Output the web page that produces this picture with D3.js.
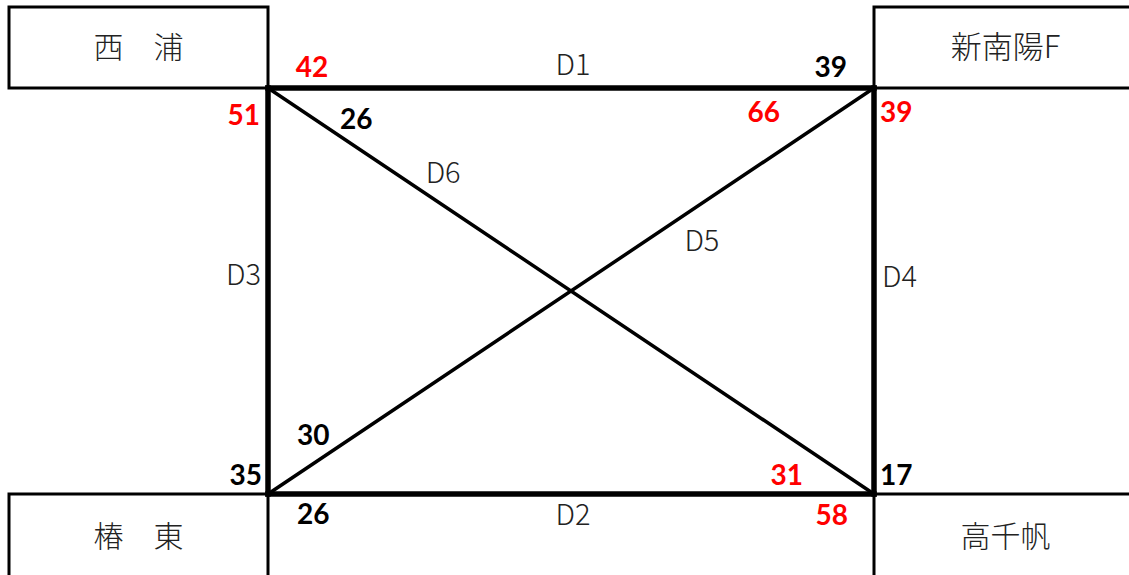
<!DOCTYPE html>
<html>
<head>
<meta charset="utf-8">
<script src="https://cdn.jsdelivr.net/npm/d3@7"></script>
<style>
  html, body { margin: 0; padding: 0; background: #fff; }
  svg { display: block; }
</style>
</head>
<body>
<svg id="chart" width="1129" height="575"></svg>
<script>
// ---- data ----
const stationNames = ["西　浦", "新南陽F", "椿　東", "高千帆"];   // TL, TR, BL, BR
const stationCol = [0, 1, 0, 1];
const stationRow = [0, 0, 1, 1];

const edgeNames = ["D1", "D2", "D3", "D4", "D5", "D6"];
const edgeFrom  = [0, 2, 0, 1, 2, 0];
const edgeTo    = [1, 3, 2, 3, 1, 3];
const countAtFrom = [42, 26, 51, 39, 30, 26];
const countAtTo   = [39, 58, 35, 17, 66, 31];
const highlightFrom = [true, false, true, true, false, false];
const highlightTo   = [false, true, false, false, true, true];

// ---- layout ----
const svg = d3.select("#chart");
const x = d3.scaleLinear().domain([0, 1]).range([268, 874]);
const y = d3.scaleLinear().domain([0, 1]).range([88, 494]);
const boxW = 259, boxH = 81;

const cjk = "'Noto Sans CJK JP', 'Noto Sans CJK SC', sans-serif";
const numFont = "Lato, 'Liberation Sans', sans-serif";

// station boxes
const boxes = stationNames.map((n, i) => ({
  name: n,
  x0: stationCol[i] === 0 ? x(0) - boxW : x(1),
  y0: stationRow[i] === 0 ? y(0) - boxH : y(1),
}));
svg.selectAll("rect.station").data(boxes).join("rect")
  .attr("class", "station")
  .attr("x", d => d.x0).attr("y", d => d.y0)
  .attr("width", boxW).attr("height", d => d.y0 < y(0.5) ? boxH : boxH + 2)
  .attr("fill", "none").attr("stroke", "#000").attr("stroke-width", 3);
svg.selectAll("text.station").data(boxes).join("text")
  .attr("class", "station")
  .attr("x", (d, i) => d.x0 + boxW / 2 + (i % 2 === 1 ? 2 : 0))
  .attr("y", (d, i) => stationRow[i] === 0 ? 58 : 547)
  .attr("text-anchor", "middle")
  .attr("font-family", cjk).attr("font-weight", 300)
  .attr("font-size", (d, i) => i === 1 ? 31 : 30).attr("fill", "#222")
  .text(d => d.name);

// edges
const edges = edgeNames.map((n, i) => ({
  name: n, i,
  x1: x(stationCol[edgeFrom[i]]), y1: y(stationRow[edgeFrom[i]]),
  x2: x(stationCol[edgeTo[i]]),   y2: y(stationRow[edgeTo[i]]),
  diag: stationCol[edgeFrom[i]] !== stationCol[edgeTo[i]] && stationRow[edgeFrom[i]] !== stationRow[edgeTo[i]]
}));
svg.selectAll("line.edge").data(edges).join("line")
  .attr("class", "edge")
  .attr("x1", d => d.x1).attr("y1", d => d.y1)
  .attr("x2", d => d.x2).attr("y2", d => d.y2)
  .attr("stroke", "#000")
  .attr("stroke-width", d => d.diag ? 3.5 : 5.5)
  .attr("stroke-linecap", "square");

// edge labels: fraction along edge + offset
const edgeLabelPos = {
  D1: { t: 0.5,  dx: 2,   dy: -13, anchor: "middle" },
  D2: { t: 0.5,  dx: 2,   dy: 31,  anchor: "middle" },
  D3: { t: 0.5,  dx: -7,  dy: -6,  anchor: "end" },
  D4: { t: 0.5,  dx: 8,   dy: -4,  anchor: "start" },
  D5: { t: 0.716, dx: 0,  dy: 48,  anchor: "middle" },
  D6: { t: 0.289, dx: 0,  dy: -22, anchor: "middle" }
};
svg.selectAll("text.edge").data(edges).join("text")
  .attr("class", "edge")
  .attr("x", d => d.x1 + (d.x2 - d.x1) * edgeLabelPos[d.name].t + edgeLabelPos[d.name].dx)
  .attr("y", d => d.y1 + (d.y2 - d.y1) * edgeLabelPos[d.name].t + edgeLabelPos[d.name].dy)
  .attr("text-anchor", d => edgeLabelPos[d.name].anchor)
  .attr("font-family", cjk).attr("font-weight", 300)
  .attr("font-size", 29).attr("fill", "#222")
  .text(d => d.name);

// counts at edge ends
const countPos = {
  "D1-from": { dx: 44,  dy: -11, anchor: "middle" },
  "D1-to":   { dx: -27, dy: -11, anchor: "end" },
  "D2-from": { dx: 29,  dy: 30,  anchor: "start" },
  "D2-to":   { dx: -26, dy: 31,  anchor: "end" },
  "D3-from": { dx: -8,  dy: 37,  anchor: "end" },
  "D3-to":   { dx: -6,  dy: -9,  anchor: "end" },
  "D4-from": { dx: 6,   dy: 34,  anchor: "start" },
  "D4-to":   { dx: 6,   dy: -9,  anchor: "start" },
  "D5-from": { dx: 29,  dy: -49, anchor: "start" },
  "D5-to":   { dx: -94, dy: 34,  anchor: "end" },
  "D6-from": { dx: 72,  dy: 41,  anchor: "start" },
  "D6-to":   { dx: -71, dy: -9,  anchor: "end" }
};
const counts = [];
edges.forEach(e => {
  counts.push({ key: e.name + "-from", x: e.x1, y: e.y1, v: countAtFrom[e.i], hl: highlightFrom[e.i] });
  counts.push({ key: e.name + "-to",   x: e.x2, y: e.y2, v: countAtTo[e.i],   hl: highlightTo[e.i] });
});
svg.selectAll("text.count").data(counts).join("text")
  .attr("class", "count")
  .attr("x", d => d.x + countPos[d.key].dx)
  .attr("y", d => d.y + countPos[d.key].dy)
  .attr("text-anchor", d => countPos[d.key].anchor)
  .attr("font-family", numFont).attr("font-weight", 700)
  .attr("font-size", 28)
  .attr("fill", d => d.hl ? "#ff0000" : "#000")
  .text(d => d.v);
</script>
</body>
</html>
